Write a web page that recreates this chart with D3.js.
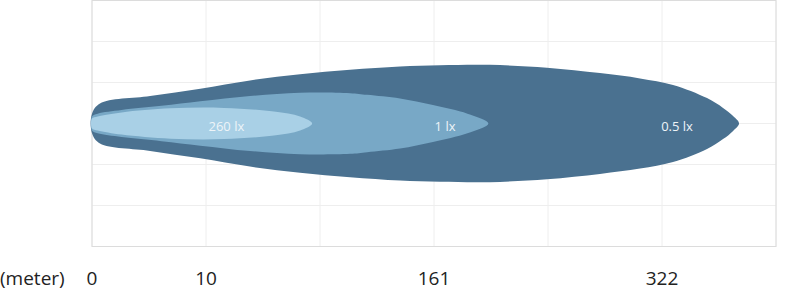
<!DOCTYPE html>
<html>
<head>
<meta charset="utf-8">
<script src="https://cdn.jsdelivr.net/npm/d3@7"></script>
<style>
  body { margin: 0; background: #fff; }
  svg { display: block; }
</style>
</head>
<body>
<script>
// distance along the beam (m), half-width in grid units
var dark = [[0,0.24],[0.7,0.49],[5.1,0.67],[9.5,0.85],[39.1,1.05],[72.3,1.2],[105.4,1.31],[138.5,1.39],[165.2,1.42],[200.5,1.43],[240.8,1.36],[278.2,1.23],[306.5,1.1],[329.8,0.94],[353.8,0.62],[365.1,0.38],[372.2,0.18],[376.4,0]];
var mid  = [[0,0.17],[0.5,0.24],[2.6,0.33],[6.1,0.43],[9.5,0.54],[39.1,0.67],[72.3,0.75],[105.4,0.74],[116.7,0.7],[138.5,0.61],[160.3,0.45],[184.6,0.24],[199.4,0]];
var light = [[0,0.12],[0.5,0.17],[2.6,0.27],[6.9,0.37],[21.9,0.38],[55,0.29],[72.3,0.17],[80.3,0]];

var zones = ["0.5 lx","1 lx","260 lx"];
var zoneColors = ["#4a7190","#78a8c6","#a9d0e6"];
var zoneLabelAt = [332.6,168.8,23.5];

var gridMeters = [0,10,85.5,161,241.5,322,402.5];
var tickMeters = [0,10,161,322];
var tickLabels = ["0","10","161","322"];

var svg = d3.select("body").append("svg")
    .attr("width",800)
    .attr("height",290)

var x = d3.scaleLinear().domain([0,10,161,322,402.5]).range([92,206,434,662,776]);
var y = d3.scaleLinear().domain([-3,3]).range([246.5,0.5]);

var grid = svg.append("g");
grid.selectAll("line.v").data(gridMeters).enter().append("line")
    .attr("x1",d => x(d)).attr("x2",d => x(d))
    .attr("y1",y(3)).attr("y2",y(-3))
    .style("stroke","#eeeeee").style("stroke-width",1);
grid.selectAll("line.h").data(d3.range(-3,4)).enter().append("line")
    .attr("x1",x(0)).attr("x2",x(402.5))
    .attr("y1",d => y(d)).attr("y2",d => y(d))
    .style("stroke","#eeeeee").style("stroke-width",1);

// frame
svg.append("rect")
    .attr("x",x(0)).attr("y",y(3))
    .attr("width",x(402.5)-x(0)).attr("height",y(-3)-y(3))
    .style("fill","none").style("stroke","#dcdcdc").style("stroke-width",1);

var outline = d3.line().curve(d3.curveCatmullRomClosed.alpha(0.5));

function shape(profile){
    var top = profile.map(p => [x(p[0]), y(p[1])]);
    var bot = profile.slice(0,-1).reverse().map(p => [x(p[0]), y(-p[1])]);
    return outline(top.concat(bot));
}

var profiles = [dark, mid, light];
svg.append("g").selectAll("path").data(profiles).enter().append("path")
    .attr("d",d => shape(d))
    .style("fill",(d,i) => zoneColors[i]);

svg.append("g").selectAll("text").data(zones).enter().append("text")
    .attr("x",(d,i) => x(zoneLabelAt[i]))
    .attr("y",y(0)+7.5)
    .attr("text-anchor","middle")
    .style("font-family","'Open Sans', sans-serif")
    .style("font-size","13px")
    .style("fill","#eef4f8")
    .text(d => d);

// axis labels
var ax = svg.append("g");
ax.selectAll("text").data(tickMeters).enter().append("text")
    .attr("x",d => x(d))
    .attr("y",285)
    .attr("text-anchor","middle")
    .style("font-family","'Open Sans', sans-serif")
    .style("font-size","19px")
    .style("fill","#222")
    .text((d,i) => tickLabels[i]);
ax.append("text")
    .attr("x",0).attr("y",285)
    .style("font-family","'Open Sans', sans-serif")
    .style("font-size","19px")
    .style("fill","#222")
    .text("(meter)");
</script>
</body>
</html>
